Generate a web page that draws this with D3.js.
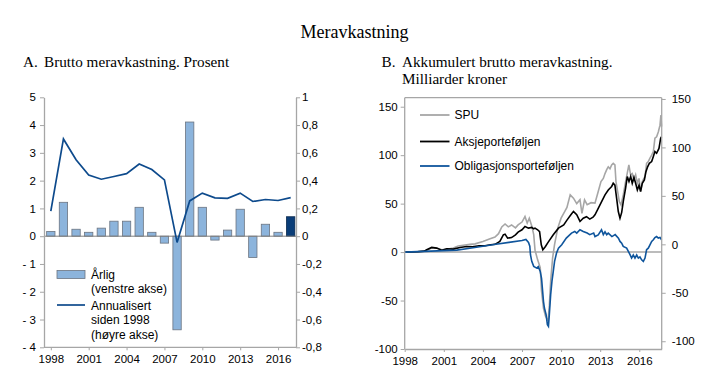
<!DOCTYPE html>
<html><head><meta charset="utf-8">
<script src="https://cdn.jsdelivr.net/npm/d3@7"></script>
<style>
body{margin:0;background:#fff;}
svg{display:block;}
</style></head>
<body>
<svg id="c" width="719" height="383"></svg>
<script>
// ---------- DATA ----------
const years = [1998,1999,2000,2001,2002,2003,2004,2005,2006,2007,2008,2009,2010,2011,2012,2013,2014,2015,2016,2017];
const annualExcess = [0.17,1.22,0.25,0.14,0.29,0.54,0.54,1.04,0.14,-0.25,-3.37,4.11,1.04,-0.14,0.22,0.97,-0.77,0.43,0.14,0.70];
const annualizedSince1998 = [0.18,0.70,0.55,0.44,0.41,0.43,0.45,0.52,0.48,0.405,-0.045,0.254,0.31,0.276,0.273,0.31,0.25,0.264,0.257,0.278];
const xTickYearsA = [1998,2001,2004,2007,2010,2013,2016];
const leftTicksA = [-4,-3,-2,-1,0,1,2,3,4,5];
const rightTicksA = [-0.8,-0.6,-0.4,-0.2,0,0.2,0.4,0.6,0.8,1];

const spu = [[1998.0,0],[1998.5,0.3],[1999.0,0.5],[1999.5,1.2],[1999.7,2.0],[2000.07,4.1],[2000.45,4.1],[2000.84,2.4],[2001.22,3.0],[2001.73,4.1],[2002.1,6.2],[2002.5,7.0],[2003.0,8],[2003.4,8.5],[2004.0,11],[2004.5,13.5],[2004.93,15.5],[2005.2,19],[2005.45,26],[2005.7,29],[2005.95,26],[2006.2,28],[2006.5,25],[2006.7,28],[2007.0,31],[2007.23,36.7],[2007.4,30],[2007.56,35],[2007.75,27],[2007.9,18],[2008.0,2],[2008.2,-8],[2008.4,-16],[2008.5,-40],[2008.65,-58],[2008.8,-66],[2009.0,-71],[2009.1,-55],[2009.2,-30],[2009.35,-6],[2009.5,8],[2009.75,25],[2010.0,35],[2010.2,40],[2010.45,46],[2010.7,59],[2010.95,55.6],[2011.2,50],[2011.45,54],[2011.6,40],[2011.8,54],[2012.0,49],[2012.3,51],[2012.6,50.5],[2012.85,62.5],[2013.06,72.8],[2013.24,76],[2013.37,81],[2013.5,85],[2013.62,88],[2013.75,86],[2013.88,90],[2014.0,91.6],[2014.13,90],[2014.21,72.8],[2014.34,62.5],[2014.47,52],[2014.6,48.7],[2014.77,59],[2014.95,72.8],[2015.1,83],[2015.2,90],[2015.33,80],[2015.46,81],[2015.59,74.5],[2015.72,79.7],[2015.85,71],[2015.98,76],[2016.1,62.5],[2016.23,72.8],[2016.44,78],[2016.56,91.6],[2016.69,93.4],[2016.82,97],[2016.95,100],[2017.08,103.7],[2017.2,117.5],[2017.33,119],[2017.46,124],[2017.59,131],[2017.66,141.5],[2017.71,129.5]];

const equity = [[1998.0,0],[1998.5,0.2],[1999.0,0.3],[1999.5,1],[1999.69,2.4],[2000.07,4.8],[2000.45,4.1],[2000.84,2],[2001.22,3.4],[2001.73,3.1],[2002.24,4.8],[2002.75,5.8],[2003.2,5.5],[2003.7,6.5],[2004.16,6.5],[2004.6,7.5],[2004.93,8],[2005.3,11],[2005.57,17.8],[2005.7,18.5],[2005.9,14.4],[2006.2,15],[2006.5,17.8],[2006.7,20.6],[2007.0,23],[2007.23,26.4],[2007.5,24.7],[2007.75,25.4],[2007.9,24],[2008.0,24.7],[2008.2,23],[2008.35,21],[2008.48,7.5],[2008.6,2.4],[2008.8,5.8],[2009.0,10],[2009.4,17.8],[2009.8,24.7],[2010.2,28],[2010.45,33],[2010.75,38.5],[2010.95,42],[2011.2,38.5],[2011.45,31.6],[2011.7,35],[2011.95,36.5],[2012.2,34],[2012.45,36],[2012.6,38.5],[2012.86,45.3],[2013.11,52],[2013.37,59],[2013.62,64],[2013.88,67.7],[2014.0,71],[2014.13,69],[2014.26,55.6],[2014.39,41.9],[2014.52,35],[2014.65,41],[2014.77,52],[2014.95,66],[2015.08,78],[2015.21,72.8],[2015.34,78],[2015.46,71],[2015.59,77],[2015.72,71],[2015.85,64],[2015.98,69],[2016.1,62.5],[2016.23,71],[2016.39,74.5],[2016.51,83],[2016.64,88],[2016.77,91.6],[2016.95,93.4],[2017.08,98.6],[2017.2,103.7],[2017.33,102],[2017.51,107],[2017.64,117.5],[2017.71,119]];

const bonds = [[1998.0,0],[1999.0,0.5],[2000.0,1],[2001.0,1.5],[2002.0,2],[2003.0,4],[2004.0,6],[2005.0,8],[2006.0,10],[2007.0,12],[2007.3,13],[2007.5,10],[2007.6,6],[2007.65,-2.7],[2007.75,-9.6],[2007.9,-14.7],[2008.13,-16.5],[2008.25,-15],[2008.4,-20],[2008.5,-27],[2008.65,-51],[2008.72,-57.7],[2008.85,-64.6],[2008.95,-75],[2009.03,-76.6],[2009.1,-64],[2009.2,-44],[2009.3,-30],[2009.4,-20],[2009.5,-9.6],[2009.65,-1],[2009.8,4],[2010.05,7.5],[2010.4,14.4],[2010.8,19.6],[2011.05,21.3],[2011.2,19.6],[2011.45,23],[2011.7,21.3],[2012.0,19.6],[2012.2,18],[2012.5,19.6],[2012.6,16],[2012.85,17.8],[2013.1,23],[2013.24,18],[2013.37,21],[2013.5,18],[2013.62,19.6],[2013.9,16],[2014.15,18],[2014.4,14.4],[2014.52,11],[2014.65,9.2],[2014.77,5.8],[2015.03,4.1],[2015.16,0.65],[2015.29,-2.7],[2015.41,-6.2],[2015.54,-3],[2015.67,-6.2],[2015.8,-3],[2015.93,-6.2],[2016.05,-5],[2016.18,-8],[2016.31,-9.6],[2016.44,-6.2],[2016.56,2.4],[2016.69,4],[2016.82,7.5],[2016.95,11],[2017.08,12.7],[2017.2,15],[2017.33,16],[2017.46,14.4],[2017.59,15],[2017.71,12.7]];
const xTickYearsB = [1998,2001,2004,2007,2010,2013,2016];
const ticksB = [-100,-50,0,50,100,150];

// ---------- STYLE ----------
const sans = "'Liberation Sans', Arial, sans-serif";
const serif = "'Liberation Serif', 'Times New Roman', serif";
const axisGray = "#a6a6a6";
const tickFont = 11.5;
const titleSize = "15.2px";

const svg = d3.select("#c");

// Titles
svg.append("text").attr("x",354.5).attr("y",37.5).attr("text-anchor","middle")
  .style("font-family",serif).style("font-size","18px").text("Meravkastning");
svg.append("text").attr("x",23).attr("y",67).style("font-family",serif).style("font-size",titleSize).text("A.");
svg.append("text").attr("x",44).attr("y",67).style("font-family",serif).style("font-size",titleSize).text("Brutto meravkastning. Prosent");
svg.append("text").attr("x",381.5).attr("y",67).style("font-family",serif).style("font-size",titleSize).text("B.");
svg.append("text").attr("x",402).attr("y",67).style("font-family",serif).style("font-size",titleSize).text("Akkumulert brutto meravkastning.");
svg.append("text").attr("x",402).attr("y",83.5).style("font-family",serif).style("font-size",titleSize).text("Milliarder kroner");

// ---------- PANEL A ----------
const A = {l:44, r:296, t:97.3, b:347.3};
const xA = d3.scaleBand().domain(years).range([44.5, 297]).paddingInner(0.34).paddingOuter(0.17);
const yAL = d3.scaleLinear().domain([-4,5]).range([A.b, A.t]);
const yAR = d3.scaleLinear().domain([-0.8,1]).range([A.b, A.t]);
const cx = y => xA(y) + xA.bandwidth()/2;

const gA = svg.append("g");
gA.selectAll("rect.bar").data(years).enter().append("rect")
  .attr("x", y => xA(y))
  .attr("width", xA.bandwidth())
  .attr("y", (y,i) => yAL(Math.max(0, annualExcess[i])))
  .attr("height", (y,i) => Math.abs(yAL(annualExcess[i]) - yAL(0)))
  .attr("fill", (y,i) => i === years.length-1 ? "#0a3d78" : "#8cb4dc")
  .attr("stroke", (y,i) => i === years.length-1 ? "#08284d" : "#6b7480")
  .attr("stroke-width", 0.8);
gA.append("line").attr("x1",A.l).attr("x2",A.r).attr("y1",yAL(0)).attr("y2",yAL(0))
  .attr("stroke","#7f7f7f").attr("stroke-width",1);
const lineA = d3.line().x((d,i)=>cx(years[i])).y(d=>yAR(d));
gA.append("path").datum(annualizedSince1998).attr("d",lineA)
  .attr("fill","none").attr("stroke","#0d4a8c").attr("stroke-width",1.7);

function styleAxis(g){
  g.select(".domain").attr("stroke",axisGray).attr("stroke-width",1.3);
  g.selectAll(".tick line").attr("stroke",axisGray).attr("stroke-width",1);
  g.selectAll(".tick text").style("font-family",sans).style("font-size",tickFont+"px").attr("fill","#000");
}
const fmtLA = d => d < 0 ? "- " + Math.abs(d) : String(d);
const fmtRA = d => { if (Math.abs(d) < 1e-9) return "0"; if (Math.abs(d-1)<1e-9) return "1";
  return (d<0?"-":"") + Math.abs(d).toFixed(1).replace(".",","); };
const axLA = svg.append("g").attr("transform",`translate(${A.l},0)`)
  .call(d3.axisLeft(yAL).tickValues(leftTicksA).tickFormat(fmtLA).tickSize(4).tickSizeOuter(0).tickPadding(4));
styleAxis(axLA);
const axRA = svg.append("g").attr("transform",`translate(${A.r},0)`)
  .call(d3.axisRight(yAR).tickValues(rightTicksA).tickFormat(fmtRA).tickSize(4).tickSizeOuter(0).tickPadding(2));
styleAxis(axRA);
svg.append("line").attr("x1",A.l).attr("x2",A.r).attr("y1",A.b).attr("y2",A.b).attr("stroke",axisGray).attr("stroke-width",1.3);
const axBA = svg.append("g").attr("transform",`translate(0,${A.b})`)
  .call(d3.axisBottom(d3.scalePoint().domain(years).range([cx(1998), cx(2017)]))
    .tickValues(xTickYearsA).tickSize(3).tickSizeOuter(0).tickPadding(5));
axBA.select(".domain").remove();
styleAxis(axBA);

// legend A
const legA = svg.append("g");
legA.append("rect").attr("x",57).attr("y",270.5).attr("width",28).attr("height",8)
  .attr("fill","#8cb4dc").attr("stroke","#6b7480").attr("stroke-width",0.8);
legA.append("line").attr("x1",57).attr("x2",85).attr("y1",305).attr("y2",305)
  .attr("stroke","#0d4a8c").attr("stroke-width",1.7);
const legAText = [["Årlig",278.5],["(venstre akse)",293],["Annualisert",309.5],["siden 1998",324],["(høyre akse)",338.5]];
legA.selectAll("text").data(legAText).enter().append("text")
  .attr("x",91).attr("y",d=>d[1]).text(d=>d[0])
  .style("font-family",sans).style("font-size","12px");

// ---------- PANEL B ----------
const B = {l:404.7, r:661.7, t:97.7, b:349};
const xB = d3.scaleLinear().domain([1998, 2017.72]).range([B.l, B.r]);
const yBL = d3.scaleLinear().domain([-100, 159.3]).range([B.b, B.t]);
const yBR = d3.scaleLinear().domain([-108, 151.3]).range([B.b, B.t]);

svg.append("line").attr("x1",B.l).attr("x2",B.r).attr("y1",B.t).attr("y2",B.t).attr("stroke",axisGray).attr("stroke-width",1.3);
svg.append("line").attr("x1",B.l).attr("x2",B.r).attr("y1",yBL(0)).attr("y2",yBL(0)).attr("stroke",axisGray).attr("stroke-width",1.5);

const lineB = d3.line().x(d=>xB(d[0])).y(d=>yBL(d[1]));
svg.append("path").datum(spu).attr("d",lineB).attr("fill","none").attr("stroke","#a6a6a6").attr("stroke-width",1.6);
svg.append("path").datum(equity).attr("d",lineB).attr("fill","none").attr("stroke","#000").attr("stroke-width",1.6);
svg.append("path").datum(bonds).attr("d",lineB).attr("fill","none").attr("stroke","#0f559c").attr("stroke-width",1.6);

const fmtB = d => d < 0 ? "-" + Math.abs(d) : String(d);
const axLB = svg.append("g").attr("transform",`translate(${B.l},0)`)
  .call(d3.axisLeft(yBL).tickValues(ticksB).tickFormat(fmtB).tickSize(4).tickSizeOuter(0).tickPadding(3));
styleAxis(axLB);
const axRB = svg.append("g").attr("transform",`translate(${B.r},0)`)
  .call(d3.axisRight(yBR).tickValues(ticksB).tickFormat(fmtB).tickSize(4).tickSizeOuter(0).tickPadding(6));
styleAxis(axRB);
axRB.select(".domain").attr("d",`M0,${B.t}V${B.b}`);
axLB.select(".domain").attr("d",`M0,${B.t}V${B.b}`);
const axBB = svg.append("g").attr("transform",`translate(0,${B.b})`)
  .call(d3.axisBottom(xB).tickValues(xTickYearsB).tickFormat(d3.format("d")).tickSize(3).tickSizeOuter(0).tickPadding(5));
styleAxis(axBB);

// legend B
const legB = [["SPU","#a6a6a6",115],["Aksjeporteføljen","#000",141.5],["Obligasjonsporteføljen","#0f559c",166]];
const gLB = svg.append("g");
gLB.selectAll("line").data(legB).enter().append("line")
  .attr("x1",420).attr("x2",449.5).attr("y1",d=>d[2]).attr("y2",d=>d[2])
  .attr("stroke",d=>d[1]).attr("stroke-width",1.8);
gLB.selectAll("text").data(legB).enter().append("text")
  .attr("x",454.5).attr("y",d=>d[2]+4.3).text(d=>d[0])
  .style("font-family",sans).style("font-size","12px");
</script>
</body></html>
